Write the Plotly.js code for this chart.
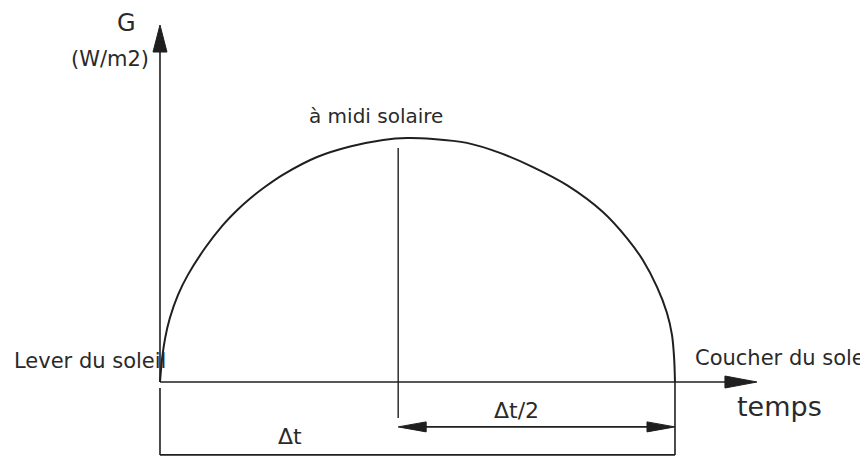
<!DOCTYPE html>
<html>
<head>
<meta charset="utf-8">
<script src="https://cdn.plot.ly/plotly-3.0.1.min.js"></script>
<style>html,body{margin:0;padding:0;background:#fff;}#chart{width:860px;height:457px;}</style>
</head>
<body>
<div id="chart"></div>
<script>
// --- data (hours after sunrise, irradiance G in W/m2) ---
const hours      = [0, 0.05, 0.12, 0.23, 0.42, 0.65, 1.05, 1.45, 1.82, 2.1, 2.45, 2.87, 3.66, 4.43, 5.2, 5.76, 6.36, 7.15, 7.92, 8.69, 9.5, 10.32, 10.88, 11.25, 11.58, 11.81, 11.93, 11.98, 12];
const irradiance = [0, 98, 180, 262, 357, 439, 549, 640, 708, 752, 800, 850, 922, 965, 992, 1000, 996, 980, 939, 881, 805, 697, 590, 500, 390, 285, 193, 98, 0];

const sunrise = 0;
const sunset = 12;
const noonLine = 5.55;           // position of the "midi solaire" marker line
const noonLineG = [959, -148];   // its top and bottom
const axisTopG = 1463;           // tip of the G axis arrow
const axisEndT = 13.91;          // tip of the time axis arrow
const halfSpanG = -184;          // level of the Δt/2 arrow
const fullSpanG = -299;          // level of the Δt bracket
const leftTickTopG = -25;

const labels = ["G", "(W/m2)", "à midi solaire", "Lever du soleil", "Coucher du soleil", "temps", "\u0394t/2", "\u0394t"];
const labelT = [-0.79, -1.17, 5.03, -3.45, 12.42, 13.4, 8.3, 3.02];
const labelG = [1470, 1325, 1090, 85, 100, -100, -116, -225];

// --- layout helpers ---
const W = 860, H = 457;
const xRange = [-3.728, 16.311];
const yRange = [-307.4, 1565.6];
const kx = W / (xRange[1] - xRange[0]);
const ky = H / (yRange[1] - yRange[0]);
const ink = '#1f1f1f';

function seg(x0, y0, x1, y1, w) {
  return {type: 'scatter', mode: 'lines', x: [x0, x1], y: [y0, y1],
          line: {color: ink, width: w || 1.6}, hoverinfo: 'skip'};
}
// arrowhead triangle: tip at (x,y), direction 'up','right','left'; len, half in px
function head(x, y, dir, len, half) {
  let xs, ys;
  if (dir === 'up') {
    xs = [x, x - half / kx, x + half / kx, x];
    ys = [y, y - len / ky, y - len / ky, y];
  } else if (dir === 'right') {
    xs = [x, x - len / kx, x - len / kx, x];
    ys = [y, y + half / ky, y - half / ky, y];
  } else {
    xs = [x, x + len / kx, x + len / kx, x];
    ys = [y, y + half / ky, y - half / ky, y];
  }
  return {type: 'scatter', mode: 'lines', x: xs, y: ys, fill: 'toself',
          fillcolor: ink, line: {color: ink, width: 1}, hoverinfo: 'skip'};
}

const traces = [
  {type: 'scatter', mode: 'lines', x: hours, y: irradiance,
   line: {color: ink, width: 2, shape: 'spline', smoothing: 0.8}, hoverinfo: 'skip'},
  seg(sunrise, 0, sunrise, axisTopG - 20 / ky, 1.6),
  head(sunrise, axisTopG, 'up', 27, 7),
  seg(sunrise, 0, axisEndT - 20 / kx, 0, 1.6),
  head(axisEndT, 0, 'right', 32, 6),
  seg(noonLine, noonLineG[0], noonLine, noonLineG[1], 1.4),
  seg(noonLine + 10 / kx, halfSpanG, sunset - 10 / kx, halfSpanG, 1.6),
  head(noonLine, halfSpanG, 'left', 28, 5),
  head(sunset, halfSpanG, 'right', 28, 5),
  seg(sunrise, leftTickTopG, sunrise, fullSpanG, 1.6),
  seg(sunset, 0, sunset, fullSpanG, 1.6),
  seg(sunrise, fullSpanG, sunset, fullSpanG, 1.8)
];

const sizes = [24, 21, 20, 21, 21, 27, 22, 22];
const anchors = ['center', 'center', 'center', 'left', 'left', 'left', 'center', 'center'];
const annotations = labels.map((t, i) => ({
  x: labelT[i], y: labelG[i], xref: 'x', yref: 'y', text: t, showarrow: false,
  xanchor: anchors[i], yanchor: 'middle',
  font: {family: 'DejaVu Sans, sans-serif', size: sizes[i], color: '#2a2a2a'}
}));

const layout = {
  width: W, height: H,
  margin: {l: 0, r: 0, t: 0, b: 0},
  paper_bgcolor: '#ffffff', plot_bgcolor: '#ffffff',
  showlegend: false,
  xaxis: {range: xRange, visible: false, fixedrange: true},
  yaxis: {range: yRange, visible: false, fixedrange: true},
  annotations: annotations
};

Plotly.newPlot('chart', traces, layout, {displayModeBar: false, staticPlot: true});
</script>
</body>
</html>
